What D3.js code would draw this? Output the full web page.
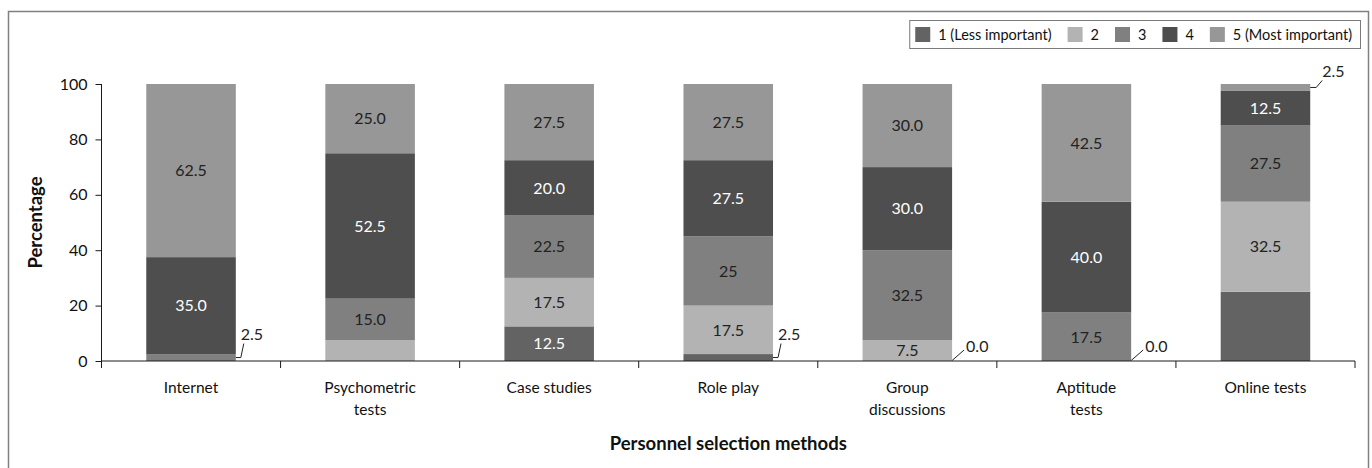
<!DOCTYPE html>
<html>
<head>
<meta charset="utf-8">
<script src="https://cdn.jsdelivr.net/npm/d3@7"></script>
<style>
  html, body { margin: 0; padding: 0; background: #fff; }
  svg { display: block; font-family: Lato, "Open Sans", sans-serif; }
</style>
</head>
<body>
<svg id="chart" width="1372" height="468"></svg>
<script>
// Personnel selection methods, rated by importance (percent of respondents)
const categories = ["Internet", "Psychometric\ntests", "Case studies", "Role play",
                    "Group\ndiscussions", "Aptitude\ntests", "Online tests"];
const seriesNames = ["1 (Less important)", "2", "3", "4", "5 (Most important)"];

const rating1 = [0, 0, 12.5, 2.5, 0, 0, 25];
const rating2 = [0, 7.5, 17.5, 17.5, 7.5, 0, 32.5];
const rating3 = [2.5, 15, 22.5, 25, 32.5, 17.5, 27.5];
const rating4 = [35, 52.5, 20, 27.5, 30, 40, 12.5];
const rating5 = [62.5, 25, 27.5, 27.5, 30, 42.5, 2.5];

// value labels as printed on each segment ("" = no label)
const label1 = ["", "", "12.5", "2.5", "0.0", "0.0", ""];
const label2 = ["", "", "17.5", "17.5", "7.5", "", "32.5"];
const label3 = ["2.5", "15.0", "22.5", "25", "32.5", "17.5", "27.5"];
const label4 = ["35.0", "52.5", "20.0", "27.5", "30.0", "40.0", "12.5"];
const label5 = ["62.5", "25.0", "27.5", "27.5", "30.0", "42.5", "2.5"];

const yTicks = [0, 20, 40, 60, 80, 100];

const seriesValues = [rating1, rating2, rating3, rating4, rating5];
const seriesLabels = [label1, label2, label3, label4, label5];
const fills = ["#636363", "#b3b3b3", "#808080", "#4e4e4e", "#979797"];
const labelInk = ["#ffffff", "#222222", "#222222", "#ffffff", "#222222"];

const svg = d3.select("#chart");
const plot = { left: 101.5, right: 1355, top: 84, bottom: 361 };

// outer frame
svg.append("rect")
  .attr("x", 8.5).attr("y", 11.5)
  .attr("width", 1360).attr("height", 470)
  .attr("fill", "none").attr("stroke", "#808080").attr("stroke-width", 1.5);

const x = d3.scaleBand()
  .domain(d3.range(categories.length))
  .range([plot.left, plot.right])
  .paddingInner(0.5).paddingOuter(0.25);

const y = d3.scaleLinear().domain([0, 100]).range([plot.bottom, plot.top]);

// stacked table built from the series arrays
const table = categories.map((c, i) => {
  const row = { idx: i };
  seriesValues.forEach((arr, s) => { row["s" + s] = arr[i]; });
  return row;
});
const keys = seriesValues.map((_, s) => "s" + s);
const stacked = d3.stack().keys(keys)(table);

// bars
const layers = svg.append("g").selectAll("g")
  .data(stacked).join("g")
  .attr("fill", (d, s) => fills[s]);

layers.selectAll("rect")
  .data(d => d)
  .join("rect")
  .attr("x", d => x(d.data.idx))
  .attr("width", x.bandwidth())
  .attr("y", d => y(d[1]))
  .attr("height", d => Math.max(0, y(d[0]) - y(d[1])));

// y axis
const yAxis = svg.append("g")
  .attr("transform", `translate(${plot.left},0)`)
  .call(d3.axisLeft(y).tickValues(yTicks).tickSize(6).tickPadding(8).tickFormat(d3.format("d")));
yAxis.select(".domain").attr("d", `M0,${plot.top}V${plot.bottom + 7}`).attr("stroke", "#1a1a1a");
yAxis.selectAll("line").attr("stroke", "#1a1a1a");
yAxis.selectAll("text")
  .attr("font-family", "Lato, sans-serif").attr("font-size", 16).attr("fill", "#111");

// x axis: baseline with ticks at category boundaries
const xAxis = svg.append("g").attr("transform", `translate(0,${plot.bottom})`);
xAxis.append("line")
  .attr("x1", plot.left).attr("x2", plot.right)
  .attr("stroke", "#1a1a1a");
const bounds = d3.range(categories.length + 1).map(i => plot.left + i * x.step());
xAxis.selectAll("line.tick")
  .data(bounds).join("line").attr("class", "tick")
  .attr("x1", d => d).attr("x2", d => d)
  .attr("y1", 0).attr("y2", 7)
  .attr("stroke", "#1a1a1a");

// category labels
const catText = svg.append("g").selectAll("text")
  .data(categories).join("text")
  .attr("text-anchor", "middle")
  .attr("font-size", 15.5).attr("fill", "#111")
  .attr("transform", (d, i) => `translate(${x(i) + x.bandwidth() / 2},393)`);
catText.selectAll("tspan")
  .data(d => d.split("\n")).join("tspan")
  .attr("x", 0).attr("dy", (d, j) => j === 0 ? 0 : 22)
  .text(d => d);

// axis titles
svg.append("text")
  .attr("x", (plot.left + plot.right) / 2).attr("y", 450)
  .attr("text-anchor", "middle").attr("font-weight", "bold")
  .attr("font-size", 18.5).attr("fill", "#111")
  .text("Personnel selection methods");

svg.append("text")
  .attr("transform", `translate(42,${(plot.top + plot.bottom) / 2}) rotate(-90)`)
  .attr("text-anchor", "middle").attr("font-weight", "bold")
  .attr("font-size", 18.5).attr("fill", "#111")
  .text("Percentage");

// value labels
const labelG = svg.append("g").attr("font-size", 16);
stacked.forEach((layer, s) => {
  layer.forEach(seg => {
    const i = seg.data.idx;
    const txt = seriesLabels[s][i];
    if (!txt) return;
    const v = seriesValues[s][i];
    const cx = x(i) + x.bandwidth() / 2;
    const cy = (y(seg[0]) + y(seg[1])) / 2;
    if (v >= 5) {
      labelG.append("text")
        .attr("x", cx).attr("y", cy).attr("dy", "0.36em")
        .attr("text-anchor", "middle")
        .attr("fill", labelInk[s])
        .text(txt);
      return;
    }
    // small segments: label beside the bar with a leader line
    const bx = x(i) + x.bandwidth();
    let pts, tx, ty;
    if (v === 0) {
      pts = [[bx, cy - 0.5], [bx + 12, cy - 11]];
      tx = bx + 14; ty = cy - 9;
    } else if (seg[1] >= 100) {
      pts = [[bx, cy], [bx + 6, cy], [bx + 12, cy - 7]];
      tx = bx + 12; ty = cy - 10;
    } else {
      pts = [[bx, cy], [bx + 5, cy], [bx + 8, cy - 14]];
      tx = bx + 5; ty = cy - 18;
    }
    labelG.append("path")
      .attr("d", d3.line()(pts))
      .attr("fill", "none").attr("stroke", "#222").attr("stroke-width", 1);
    labelG.append("text")
      .attr("x", tx).attr("y", ty)
      .attr("fill", "#222")
      .text(txt);
  });
});

// legend, right-aligned in a framed box
const legend = svg.append("g").attr("font-size", 14.5).attr("fill", "#111");
let cursor = 0;
seriesNames.forEach((name, s) => {
  const g = legend.append("g").attr("transform", `translate(${cursor},0)`);
  g.append("rect").attr("x", 0).attr("y", 7).attr("width", 15).attr("height", 15)
    .attr("fill", fills[s]);
  const t = g.append("text").attr("x", 23).attr("y", 19.5).text(name);
  const w = t.node().getComputedTextLength();
  cursor += 23 + w + 16;
});
const legendW = cursor - 16 + 6 + 8;
const legendRight = 1360;
const legendX = legendRight - legendW;
legend.attr("transform", `translate(${legendX + 6},20)`);
svg.insert("rect", "g")
  .attr("x", legendX + 0.5).attr("y", 20.5)
  .attr("width", legendW).attr("height", 28)
  .attr("fill", "#fff").attr("stroke", "#7a7a7a").attr("stroke-width", 1);
</script>
</body>
</html>
